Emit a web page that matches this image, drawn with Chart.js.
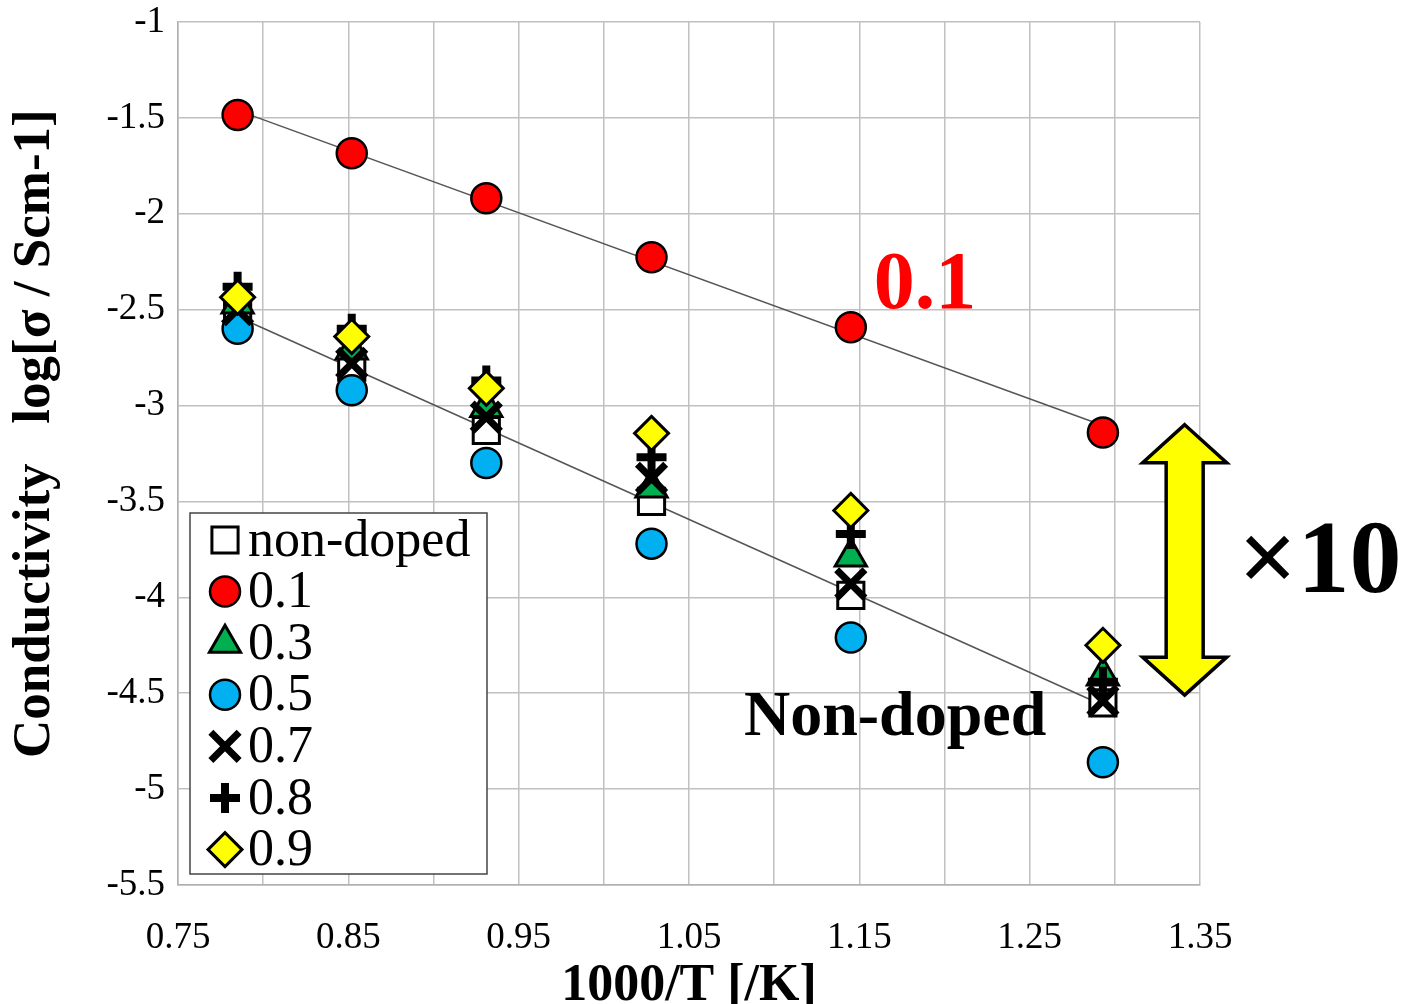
<!DOCTYPE html>
<html>
<head>
<meta charset="utf-8">
<script src="https://cdn.jsdelivr.net/npm/chart.js@4.4.1/dist/chart.umd.min.js"></script>
<style>
  html, body { margin: 0; padding: 0; background: #fff; overflow: hidden; }
  #wrap { width: 1408px; height: 1004px; overflow: hidden; }
</style>
</head>
<body>
<div id="wrap"><canvas id="myChart" width="1408" height="1020"></canvas></div>
<script>
// 1000/T values of the six measuring temperatures
const invTemp = [0.785, 0.852, 0.931, 1.028, 1.145, 1.293];

// log(sigma) for each doping level
const nonDoped = [-2.53, -2.80, -3.13, -3.50, -3.99, -4.55];
const dope01 = [-1.485, -1.684, -1.919, -2.227, -2.592, -3.14];
const dope03 = [-2.47, -2.71, -3.01, -3.43, -3.79, -4.41];
const dope05 = [-2.60, -2.92, -3.30, -3.72, -4.21, -4.86];
const dope07 = [-2.50, -2.78, -3.06, -3.38, -3.93, -4.54];
const dope08 = [-2.38, -2.60, -2.87, -3.27, -3.67, -4.44];
const dope09 = [-2.435, -2.64, -2.91, -3.145, -3.547, -4.25];

const seriesLabels = ['non-doped', '0.1', '0.3', '0.5', '0.7', '0.8', '0.9'];
const xTickLabels = ['0.75', '0.85', '0.95', '1.05', '1.15', '1.25', '1.35'];
const yTickLabels = ['-1', '-1.5', '-2', '-2.5', '-3', '-3.5', '-4', '-4.5', '-5', '-5.5'];

const serif = '"Liberation Serif", "Times New Roman", serif';

function pts(ys) {
  return invTemp.map((x, i) => ({ x: x, y: ys[i] }));
}

// least squares trend line, drawn between first and last x
function trend(ys) {
  const n = invTemp.length;
  const mx = invTemp.reduce((a, b) => a + b, 0) / n;
  const my = ys.reduce((a, b) => a + b, 0) / n;
  let sxy = 0, sxx = 0;
  for (let i = 0; i < n; i++) {
    sxy += (invTemp[i] - mx) * (ys[i] - my);
    sxx += (invTemp[i] - mx) * (invTemp[i] - mx);
  }
  const k = sxy / sxx;
  const x0 = invTemp[0], x1 = invTemp[n - 1];
  return [{ x: x0, y: my + k * (x0 - mx) }, { x: x1, y: my + k * (x1 - mx) }];
}

const markers = [
  { data: nonDoped, pointStyle: 'rect', radius: 18.5, bg: '#ffffff', bw: 3 },
  { data: dope01, pointStyle: 'circle', radius: 15, bg: '#ff0000', bw: 2.5 },
  { data: dope03, pointStyle: 'triangle', radius: 18, bg: '#00b050', bw: 3 },
  { data: dope05, pointStyle: 'circle', radius: 15, bg: '#00b0f0', bw: 2.5 },
  { data: dope07, pointStyle: 'crossRot', radius: 20, bg: '#000000', bw: 7 },
  { data: dope08, pointStyle: 'cross', radius: 15, bg: '#000000', bw: 8 },
  { data: dope09, pointStyle: 'rectRot', radius: 17, bg: '#ffff00', bw: 3 }
];

const datasets = markers.map((m, i) => ({
  label: seriesLabels[i],
  data: pts(m.data),
  pointStyle: m.pointStyle,
  pointRadius: m.radius,
  pointBackgroundColor: m.bg,
  pointBorderColor: '#000000',
  pointBorderWidth: m.bw,
  showLine: false,
  order: markers.length - i
}));

datasets.push({
  label: 'fit 0.1', data: trend(dope01), showLine: true, pointRadius: 0,
  borderColor: '#555555', borderWidth: 1.5, order: 20
});
datasets.push({
  label: 'fit non-doped', data: trend(nonDoped), showLine: true, pointRadius: 0,
  borderColor: '#555555', borderWidth: 1.5, order: 20
});

const overlays = {
  id: 'overlays',
  afterDraw(chart) {
    const ctx = chart.ctx;
    const xs = chart.scales.x, ys = chart.scales.y;
    const area = chart.chartArea;

    // legend box, lower left of the plot
    const bx = area.left + 12, by = area.bottom - 372, bw = 297, bh = 361;
    ctx.save();
    ctx.fillStyle = '#ffffff';
    ctx.fillRect(bx, by, bw, bh);
    ctx.strokeStyle = '#444444';
    ctx.lineWidth = 1.5;
    ctx.strokeRect(bx, by, bw, bh);
    ctx.font = '52px ' + serif;
    ctx.textBaseline = 'middle';
    ctx.textAlign = 'left';
    markers.forEach((m, i) => {
      const cy = by + 27 + i * 51.6;
      ctx.fillStyle = m.bg;
      ctx.strokeStyle = '#000000';
      ctx.lineWidth = m.bw;
      Chart.helpers.drawPoint(ctx, { pointStyle: m.pointStyle, radius: m.radius, borderWidth: m.bw, rotation: 0 }, bx + 35, cy);
      ctx.fillStyle = '#000000';
      ctx.fillText(seriesLabels[i], bx + 58, cy + 2);
    });

    // text labels
    ctx.textAlign = 'center';
    ctx.fillStyle = '#ff0000';
    ctx.font = 'bold 82px ' + serif;
    ctx.fillText('0.1', xs.getPixelForValue(1.1885), ys.getPixelForValue(-2.383));
    ctx.fillStyle = '#000000';
    ctx.font = 'bold 64px ' + serif;
    ctx.fillText('Non-doped', xs.getPixelForValue(1.171), ys.getPixelForValue(-4.633));
    ctx.font = 'bold 104px ' + serif;
    ctx.fillText('\u00d710', xs.getPixelForValue(1.4204), ys.getPixelForValue(-3.834));

    // yellow double arrow
    const ax = xs.getPixelForValue(1.341);
    const top = ys.getPixelForValue(-3.10), bot = ys.getPixelForValue(-4.51);
    const hw = 42, hl = 38, sw = 18.5;
    ctx.beginPath();
    ctx.moveTo(ax, top);
    ctx.lineTo(ax + hw, top + hl);
    ctx.lineTo(ax + sw, top + hl);
    ctx.lineTo(ax + sw, bot - hl);
    ctx.lineTo(ax + hw, bot - hl);
    ctx.lineTo(ax, bot);
    ctx.lineTo(ax - hw, bot - hl);
    ctx.lineTo(ax - sw, bot - hl);
    ctx.lineTo(ax - sw, top + hl);
    ctx.lineTo(ax - hw, top + hl);
    ctx.closePath();
    ctx.fillStyle = '#ffff00';
    ctx.fill();
    ctx.lineWidth = 3.5;
    ctx.lineJoin = 'miter';
    ctx.strokeStyle = '#000000';
    ctx.stroke();
    ctx.restore();
  }
};

const ctx = document.getElementById('myChart').getContext('2d');

new Chart(ctx, {
  type: 'scatter',
  data: { datasets: datasets },
  plugins: [overlays],
  options: {
    responsive: false,
    animation: false,
    devicePixelRatio: 1,
    layout: { autoPadding: false, padding: { top: 22, right: 208, left: 0, bottom: 0 } },
    plugins: {
      legend: { display: false },
      tooltip: { enabled: false }
    },
    scales: {
      x: {
        type: 'linear',
        min: 0.75,
        max: 1.35,
        afterFit: s => { s.height = 135; s.paddingLeft = 0; s.paddingRight = 0; },
        grid: { color: '#c0c0c0', lineWidth: 1.5, drawTicks: false },
        border: { color: '#b0b0b0', width: 1.5 },
        ticks: {
          stepSize: 0.05,
          autoSkip: false,
          maxRotation: 0,
          padding: 31,
          color: '#000000',
          font: { family: serif, size: 37 },
          callback: (v, i) => (i % 2 === 0 ? xTickLabels[i / 2] : '')
        },
        title: {
          display: true,
          text: '1000/T [/K]',
          color: '#000000',
          font: { family: serif, size: 52, weight: 'bold' },
          padding: { top: 0, bottom: 2 }
        }
      },
      y: {
        type: 'linear',
        min: -5.5,
        max: -1,
        afterFit: s => { s.width = 178; s.paddingTop = 0; s.paddingBottom = 0; },
        grid: { color: '#c0c0c0', lineWidth: 1.5, drawTicks: false },
        border: { color: '#b0b0b0', width: 1.5 },
        ticks: {
          stepSize: 0.5,
          padding: 13,
          color: '#000000',
          font: { family: serif, size: 37 },
          callback: (v, i, t) => yTickLabels[t.length - 1 - i]
        },
        title: {
          display: true,
          text: '   Conductivity   log[\u03c3 / Scm-1]',
          color: '#000000',
          font: { family: serif, size: 53, weight: 'bold' },
          padding: { top: 4, bottom: 0 }
        }
      }
    }
  }
});
</script>
</body>
</html>
